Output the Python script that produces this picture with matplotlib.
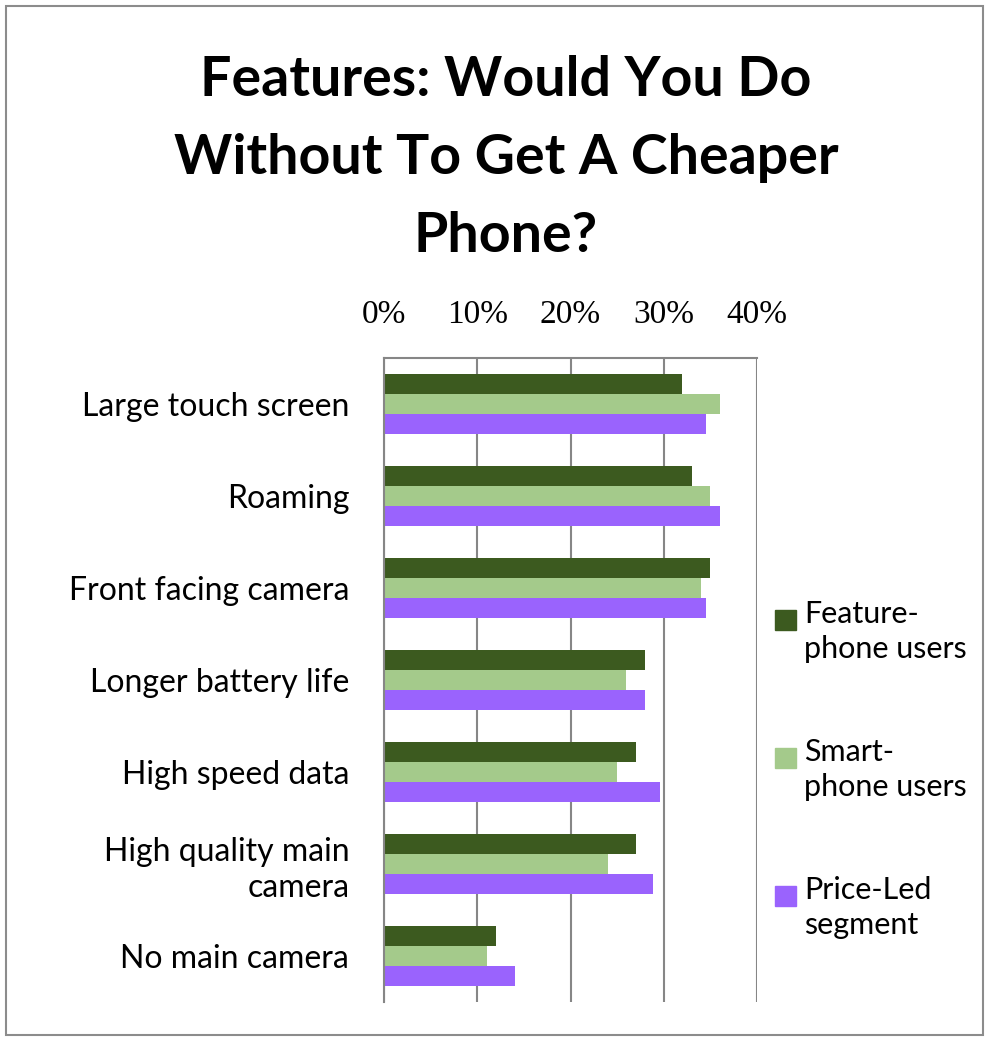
import numpy as np
import matplotlib.pyplot as plt
from matplotlib.patches import Rectangle

categories = ["Large touch screen", "Roaming", "Front facing camera",
              "Longer battery life", "High speed data",
              "High quality main\ncamera", "No main camera"]
feature_phone = [32, 33, 35, 28, 27, 27, 12]
smart_phone = [36, 35, 34, 26, 25, 24, 11]
price_led = [34.5, 36, 34.5, 28, 29.6, 28.8, 14]
series_names = ["Feature-\nphone users", "Smart-\nphone users", "Price-Led\nsegment"]
colors = ["#3c5a1f", "#a4ca8b", "#9a63fd"]
ticks = [0, 10, 20, 30, 40]

sans = ["Lato", "DejaVu Sans"]
W, H = 985, 1039

fig = plt.figure(figsize=(W / 100, H / 100), dpi=100)
fig.patch.set_facecolor("white")

# outer chart frame
fig.patches.append(Rectangle((6 / W, 4 / H), 977 / W, 1029 / H,
                             transform=fig.transFigure, fill=False,
                             edgecolor="#8c8c8c", linewidth=1.5))

ax = fig.add_axes([384 / W, 1 - 1002 / H, 373 / W, 644 / H])

y = np.arange(len(categories))
h = 0.215
ax.barh(y - h, feature_phone, height=h, color=colors[0], label=series_names[0])
ax.barh(y, smart_phone, height=h, color=colors[1], label=series_names[1])
ax.barh(y + h, price_led, height=h, color=colors[2], label=series_names[2])

ax.set_xlim(0, 40)
ax.set_ylim(len(categories) - 0.5, -0.5)
ax.set_xticks(ticks)
ax.set_xticklabels([f"{t}%" for t in ticks], family=["Liberation Serif"], fontsize=24)
ax.xaxis.tick_top()
ax.tick_params(axis="x", length=0, pad=20)
ax.set_yticks(y)
ax.set_yticklabels(categories, family=sans, fontsize=23, linespacing=1.25)
ax.tick_params(axis="y", length=0, pad=25)
ax.grid(axis="x", color="#868686", linewidth=1.5)
ax.set_axisbelow(True)
for s in ["bottom", "right"]:
    ax.spines[s].set_visible(False)
for s in ["top", "left"]:
    ax.spines[s].set_color("#868686")
    ax.spines[s].set_linewidth(1.5)

title_lines = ["Features: Would You Do", "Without To Get A Cheaper", "Phone?"]
for i, line in enumerate(title_lines):
    fig.text(506 / W, 1 - (80 + 78 * i) / H, line, ha="center", va="center",
             fontsize=40, fontweight="bold", family=sans)

# legend: square key level with the first line of each label
for i, (name, c) in enumerate(zip(series_names, colors)):
    yc = 620 + 138 * i
    fig.patches.append(Rectangle((775 / W, 1 - (yc + 10) / H), 21 / W, 20 / H,
                                 transform=fig.transFigure, color=c))
    fig.text(804 / W, 1 - (yc - 20) / H, name, ha="left", va="top",
             fontsize=22, family=sans, linespacing=1.3)

fig.savefig("out.png", dpi=100)
